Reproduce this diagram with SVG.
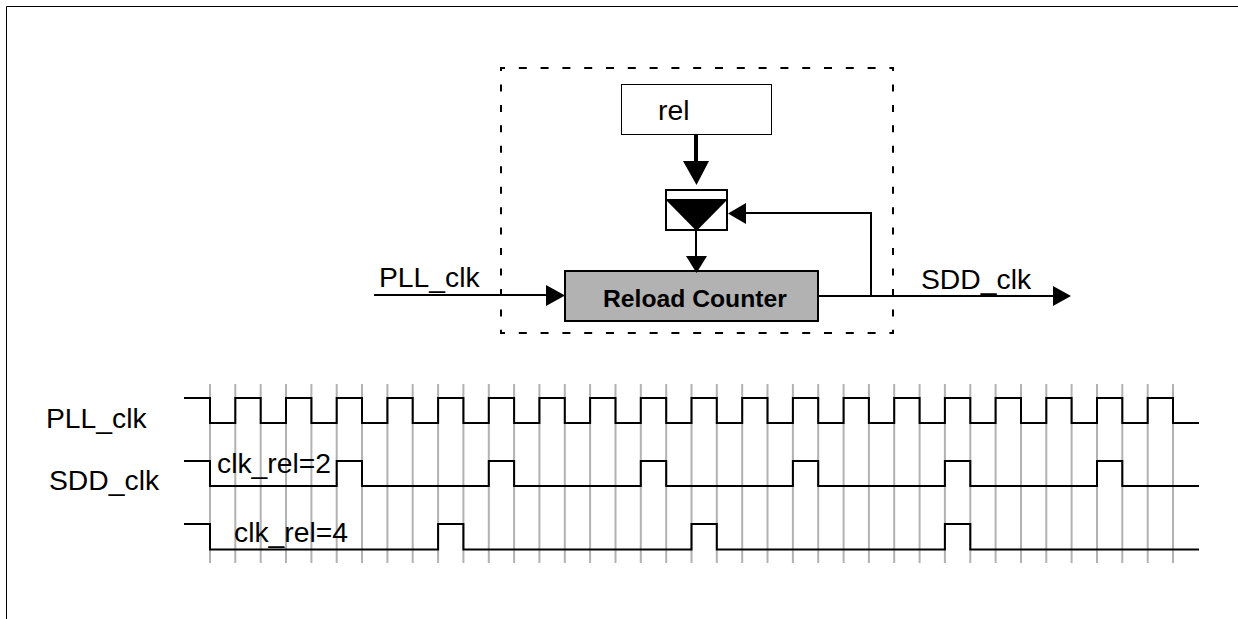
<svg xmlns="http://www.w3.org/2000/svg" width="1238" height="619" viewBox="0 0 1238 619">
<style>
text{font-family:"Liberation Sans",Arial,sans-serif;fill:#000}
.lbl{font-size:28.300px}
.wire{fill:none;stroke:#000;stroke-width:2}
.sig{fill:none;stroke:#000;stroke-width:2}
.grid{stroke:#b2b2b2;stroke-width:2}
.head{fill:#000;stroke:none}
.dh{fill:none;stroke:#000;stroke-width:2;stroke-dasharray:8 13.8;stroke-dashoffset:3}
.dv{fill:none;stroke:#000;stroke-width:2;stroke-dasharray:7 13.45;stroke-dashoffset:3}
</style>
<rect width="1238" height="619" fill="#fff"/>
<path id="frame" d="M6.500 619V6.500H1238" fill="none" stroke="#000" stroke-width="1"/>
<g id="boundary">
<path class="dh" d="M500 68H894"/><path class="dh" d="M500 333H894"/>
<path class="dv" d="M501 67V334"/><path class="dv" d="M893 67V334"/>
</g>
<g id="timing-grid" class="grid">
<path d="M210 384V563M235.300 384V563M260.700 384V563M286 384V563M311.400 384V563M336.700 384V563M362 384V563M387.400 384V563M412.700 384V563M438.100 384V563M463.400 384V563M488.800 384V563M514.100 384V563M539.400 384V563M564.800 384V563M590.100 384V563M615.500 384V563M640.800 384V563M666.200 384V563M691.500 384V563M716.800 384V563M742.200 384V563M767.500 384V563M792.900 384V563M818.200 384V563M843.600 384V563M868.900 384V563M894.200 384V563M919.600 384V563M944.900 384V563M970.300 384V563M995.600 384V563M1021 384V563M1046.300 384V563M1071.600 384V563M1097 384V563M1122.300 384V563M1147.700 384V563M1173 384V563"/>
</g>
<g id="rel"><rect x="621.500" y="84.500" width="150" height="50" fill="#fff" stroke="#000" stroke-width="1"/><text class="lbl" x="658" y="119.500">rel</text></g>
<g id="latch"><rect x="666" y="190" width="61" height="40" fill="#fff" stroke="#000" stroke-width="2"/><polygon class="head" points="665,199 728,199 696.500,231"/></g>
<g id="reload-counter"><rect x="565" y="271" width="253" height="50" fill="#b2b2b2" stroke="#000" stroke-width="2"/><text x="603" y="306.500" font-size="24.700" font-weight="700">Reload Counter</text></g>
<g id="connectors">
<path d="M696 134V163" class="wire" style="stroke-width:4"/><polygon class="head" points="683,161 709,161 696.500,185"/>
<path d="M696 230V258" class="wire"/><polygon class="head" points="686,256 707,256 696.500,273"/>
<path d="M871 296V213H745" class="wire"/><polygon class="head" points="746,203 746,224 728,213.500"/>
<path d="M374 295H548" class="wire"/><polygon class="head" points="546,285 546,306 565,295.500"/>
<path d="M818 296H1056" class="wire"/><polygon class="head" points="1053,286 1053,306 1071,296"/>
</g>
<g id="signal-pll">
<path class="sig" d="M184 398H210V423H235.300V398H260.700V423H286V398H311.400V423H336.700V398H362V423H387.400V398H412.700V423H438.100V398H463.400V423H488.800V398H514.100V423H539.400V398H564.800V423H590.100V398H615.500V423H640.800V398H666.200V423H691.500V398H716.800V423H742.200V398H767.500V423H792.900V398H818.200V423H843.600V398H868.900V423H894.200V398H919.600V423H944.900V398H970.300V423H995.600V398H1021V423H1046.300V398H1071.600V423H1097V398H1122.300V423H1147.700V398H1173V423H1199"/>
<text class="lbl" x="46" y="427.500">PLL_clk</text>
</g>
<g id="signal-sdd">
<path class="sig" d="M184 461H210V486H336.700V461H362V486H488.800V461H514.100V486H640.800V461H666.200V486H792.900V461H818.200V486H944.900V461H970.300V486H1097V461H1122.300V486H1199"/>
<text class="lbl" x="49" y="489.500">SDD_clk</text>
<text class="lbl" x="217" y="473">clk_rel=2</text>
</g>
<g id="signal-rel4">
<path class="sig" d="M184 524H210V549.500H438.100V524H463.400V549.500H691.500V524H716.800V549.500H944.900V524H970.300V549.500H1199"/>
<text class="lbl" x="234" y="541.500">clk_rel=4</text>
</g>
<text id="pll-in-label" class="lbl" x="379" y="286.500">PLL_clk</text>
<text id="sdd-out-label" class="lbl" x="921" y="288.500">SDD_clk</text>
</svg>
